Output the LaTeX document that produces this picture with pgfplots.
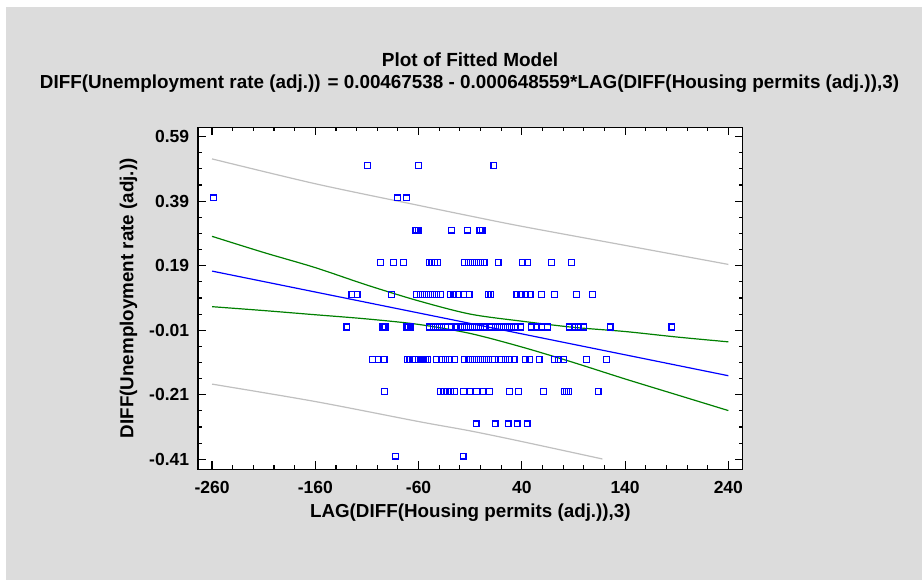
\documentclass[border=0pt]{standalone}
\usepackage{pgfplots}
\pgfplotsset{compat=1.18}
\usepackage{fontspec}
\setmainfont{Liberation Sans}
\definecolor{bggray}{RGB}{220,220,220}
\definecolor{fitblue}{RGB}{0,0,255}
\definecolor{confgreen}{RGB}{0,128,0}
\definecolor{predgray}{RGB}{192,192,192}
\pgfplotstableread{
x y
-109.4 0.5
-60.2 0.5
12.8 0.5
-258.7 0.4
-80.3 0.4
-71.8 0.4
-63.4 0.3
-61.9 0.3
-60.5 0.3
-28.2 0.3
-12.4 0.3
-1.0 0.3
0.2 0.3
1.6 0.3
-96.8 0.2
-84.2 0.2
-74.5 0.2
-49.5 0.2
-47.1 0.2
-44.7 0.2
-41.8 0.2
-15.3 0.2
-11.7 0.2
-7.8 0.2
-3.9 0.2
0.0 0.2
3.5 0.2
17.1 0.2
40.7 0.2
45.5 0.2
68.8 0.2
88.2 0.2
-124.7 0.1
-119.4 0.1
-86.4 0.1
-61.8 0.1
-58.0 0.1
-54.1 0.1
-50.2 0.1
-46.3 0.1
-42.4 0.1
-38.6 0.1
-29.4 0.1
-25.8 0.1
-21.4 0.1
-16.5 0.1
-11.0 0.1
7.4 0.1
9.9 0.1
35.1 0.1
39.2 0.1
43.6 0.1
48.1 0.1
58.8 0.1
71.7 0.1
92.8 0.1
108.3 0.1
-129.4 0.0
-95.1 0.0
-93.5 0.0
-91.9 0.0
-72.1 0.0
-70.2 0.0
-68.2 0.0
-49.5 0.0
-45.6 0.0
-41.8 0.0
-37.9 0.0
-33.7 0.0
-28.2 0.0
-23.8 0.0
-19.5 0.0
-15.6 0.0
-11.7 0.0
-7.8 0.0
-3.9 0.0
0.0 0.0
3.5 0.0
10.6 0.0
14.5 0.0
18.4 0.0
22.3 0.0
26.1 0.0
30.0 0.0
33.9 0.0
38.7 0.0
49.4 0.0
54.3 0.0
59.1 0.0
64.9 0.0
86.3 0.0
91.1 0.0
95.0 0.0
99.8 0.0
125.5 0.0
185.2 0.0
-104.5 -0.1
-99.0 -0.1
-93.5 -0.1
-70.9 -0.1
-68.4 -0.1
-66.0 -0.1
-63.8 -0.1
-56.8 -0.1
-54.9 -0.1
-52.9 -0.1
-51.0 -0.1
-42.4 -0.1
-37.9 -0.1
-34.0 -0.1
-30.1 -0.1
-25.0 -0.1
-15.9 -0.1
-11.7 -0.1
-7.8 -0.1
-3.9 -0.1
0.0 -0.1
3.8 -0.1
7.7 -0.1
11.6 -0.1
13.5 -0.1
20.3 -0.1
24.2 -0.1
28.1 -0.1
32.6 -0.1
43.3 -0.1
47.2 -0.1
56.7 -0.1
71.4 -0.1
75.6 -0.1
80.4 -0.1
102.8 -0.1
122.2 -0.1
-92.9 -0.2
-38.6 -0.2
-35.5 -0.2
-32.1 -0.2
-28.7 -0.2
-25.0 -0.2
-16.5 -0.2
-10.2 -0.2
-3.9 -0.2
2.4 -0.2
8.7 -0.2
28.1 -0.2
36.8 -0.2
60.8 -0.2
81.1 -0.2
83.1 -0.2
85.0 -0.2
113.9 -0.2
-4.2 -0.3
14.2 -0.3
26.8 -0.3
35.5 -0.3
45.2 -0.3
-82.5 -0.4
-16.8 -0.4
}\pointdata
\begin{document}
\begin{tikzpicture}[x=1bp,y=1bp]
\fill[white] (0,0) rectangle (922,580);
\fill[bggray] (6,0) rectangle (922,572.7);
\node[anchor=base,inner sep=0pt,font=\fontsize{19bp}{22bp}\selectfont\bfseries] at (470,513.3) {Plot of Fitted Model};
\node[anchor=base,inner sep=0pt,font=\fontsize{18.85bp}{22bp}\selectfont\bfseries] at (469.5,491.7) {DIFF(Unemployment rate (adj.)) = 0.00467538 - 0.000648559*LAG(DIFF(Housing permits (adj.)),3)};
\begin{axis}[
  at={(198bp,110.7bp)}, anchor=south west,
  scale only axis, width=544.7bp, height=342bp,
  xmin=-273.6, xmax=253.9, ymin=-0.441, ymax=0.619,
  axis background/.style={fill=white},
  axis line style={line width=1.3bp, black},
  xtick={-260,-160,-60,40,140,240},
  xticklabels={-260,-160,-60,40,140,240},
  ytick={-0.41,-0.21,-0.01,0.19,0.39,0.59},
  yticklabels={-0.41,-0.21,-0.01,0.19,0.39,0.59},
  minor x tick num=4, minor y tick num=3,
  tick align=inside, tick pos=both,
  major tick length=8bp, minor tick length=4bp,
  every tick/.append style={black, line width=1.1bp},
  tick label style={font=\fontsize{17.5bp}{20bp}\selectfont\bfseries, inner sep=0pt},
  xticklabel style={anchor=base, yshift=-24.7bp},
  yticklabel style={anchor=east, xshift=-8.7bp},
  xlabel={LAG(DIFF(Housing permits (adj.)),3)},
  ylabel={DIFF(Unemployment rate (adj.))},
  label style={font=\fontsize{18.8bp}{22bp}\selectfont\bfseries, inner sep=0pt},
  xlabel style={at={(axis description cs:0.5,-0.1395)}, anchor=base},
  ylabel style={at={(axis description cs:-0.1188,0.5)}, anchor=base},
]
% prediction limits
\addplot[predgray, line width=1.2bp, smooth] coordinates {(-260,0.521) (-160,0.444) (-60,0.377) (-10,0.344) (40,0.312) (140,0.253) (240,0.194)};
\addplot[predgray, line width=1.2bp, smooth] coordinates {(-260,-0.177) (-160,-0.231) (-60,-0.293) (-10,-0.322) (40,-0.355) (118,-0.409)};
% confidence limits
\addplot[confgreen, line width=1.2bp, smooth] coordinates {(-260,0.281) (-210,0.231) (-160,0.184) (-110,0.130) (-60,0.081) (-10,0.040) (40,0.018) (90,-0.001) (140,-0.014) (190,-0.031) (240,-0.046)};
\addplot[confgreen, line width=1.2bp, smooth] coordinates {(-260,0.063) (-210,0.051) (-160,0.038) (-110,0.025) (-60,0.008) (-10,-0.020) (40,-0.062) (90,-0.110) (140,-0.161) (190,-0.210) (240,-0.259)};
% fitted line
\addplot[fitblue, line width=1.2bp] coordinates {(-260,0.1733) (240,-0.1510)};
% observations
\addplot[only marks, mark=square, mark size=2.9bp, mark options={draw=fitblue, line width=1.3bp, solid}] table[x=x,y=y] {\pointdata};
\end{axis}
\pgfresetboundingbox
\path (0,0) rectangle (922,580);
\end{tikzpicture}
\end{document}
